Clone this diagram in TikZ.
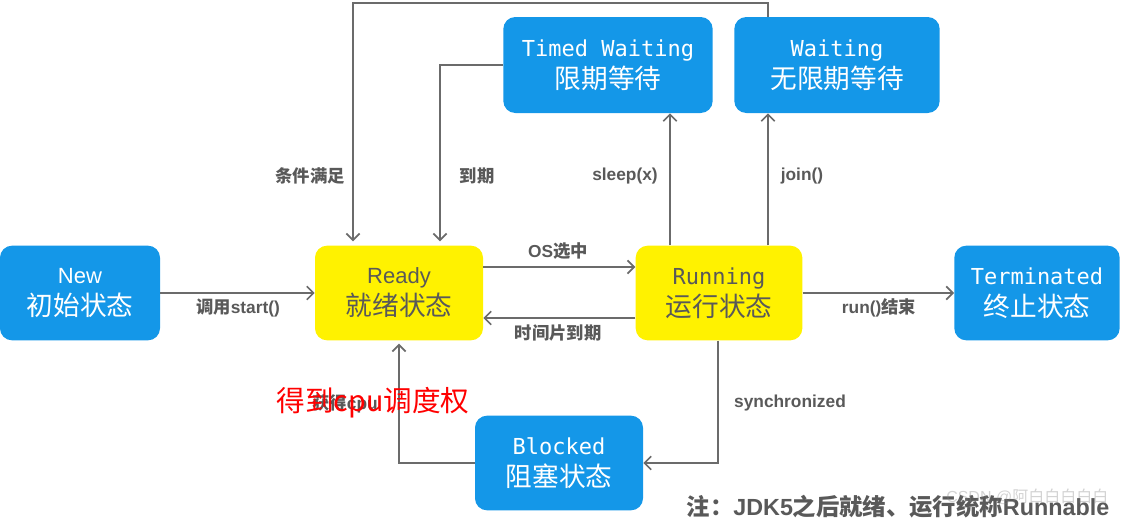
\documentclass[tikz,border=0pt]{standalone}
\usepackage{fontspec}
\setmainfont{Liberation Sans}
\setmonofont{DejaVu Sans Mono}
\newfontfamily\cjk{Noto Sans CJK SC}
\usetikzlibrary{arrows.meta,calc}
\definecolor{stateblue}{HTML}{1497E8}
\definecolor{lblgray}{HTML}{595959}
\definecolor{linegray}{HTML}{6B6B6B}
\tikzset{
  state/.style={rounded corners=9pt,fill=stateblue,text=white,align=center,minimum height=71pt,inner sep=0pt,font=\fontsize{16.5}{24}\selectfont},
  runstate/.style={state,fill=yellow,text=lblgray},
  arr/.style={draw=linegray,line width=1.4pt,-{Straight Barb[length=5pt,width=10pt,line width=1.3pt]}},
  lbl/.style={text=lblgray,font=\fontsize{13}{15}\selectfont\bfseries}
}
\newcommand\zh[1]{{\cjk\fontsize{20}{24}\selectfont #1}}
\begin{document}
\begin{tikzpicture}[x=0.75pt,y=-0.75pt]
\useasboundingbox (0,0) rectangle (1125,521);

\node[state,minimum width=120pt] (new) at (80,293) {New\\\zh{初始状态}};
\node[runstate,minimum width=126pt] (ready) at (399,293) {Ready\\\zh{就绪状态}};
\node[runstate,minimum width=125pt] (running) at (719,293) {\texttt{Running}\\\zh{运行状态}};
\node[state,minimum width=124pt] (term) at (1037,293) {\texttt{Terminated}\\\zh{终止状态}};
\node[state,minimum width=157pt,minimum height=72pt] (timed) at (608,65) {\texttt{Timed Waiting}\\\zh{限期等待}};
\node[state,minimum width=154pt,minimum height=72pt] (waiting) at (837,65) {\texttt{Waiting}\\\zh{无限期等待}};
\node[state,minimum width=126pt] (blocked) at (559,463) {\texttt{Blocked}\\\zh{阻塞状态}};

\draw[arr] (new.east) -- (ready.west);
\draw[arr] (ready.east |- 0,267) -- (running.west |- 0,267);
\draw[arr] (running.west |- 0,318) -- (ready.east |- 0,318);
\draw[arr] (running.east) -- (term.west);
\draw[arr] (running.north -| 670,0) -- (timed.south -| 670,0);
\draw[arr] (running.north -| 768,0) -- (waiting.south -| 768,0);
\draw[arr] (timed.west) -| ($(ready.north)+(41,-4)$);
\draw[arr] (waiting.north -| 768,0) -- ++(0,-14) -| ($(ready.north)+(-46,-4)$);
\draw[arr] (running.south -| 718,0) |- (blocked.east);
\draw[arr] (blocked.west) -| ($(ready.south)+(0,3)$);

\node[lbl] at (238,308) {{\cjk 调用}start()};
\node[lbl] at (558,251) {OS{\cjk 选中}};
\node[lbl] at (558,333) {{\cjk 时间片到期}};
\node[lbl] at (879,308) {run(){\cjk 结束}};
\node[lbl] at (625,176) {sleep(x)};
\node[lbl] at (802,176) {join()};
\node[lbl] at (477,176) {{\cjk 到期}};
\node[lbl] at (310,176) {{\cjk 条件满足}};
\node[lbl] at (790,403) {synchronized};
\node[lbl] at (345,404) {{\cjk 获得}cpu};
\node[text=red,font=\fontsize{21.5}{24}\selectfont] at (373,403) {\cjk 得到cpu调度权};
\node[lbl,font=\fontsize{17.5}{20}\selectfont\bfseries,anchor=east] at (1114,507) {{\cjk 注：}JDK5{\cjk 之后就绪、运行统称}Runnable};
\node[text=gray,opacity=0.35,font=\fontsize{12}{14}\selectfont,anchor=east] at (1113,497) {CSDN @{\cjk 阿白白白白白}};
\end{tikzpicture}
\end{document}
